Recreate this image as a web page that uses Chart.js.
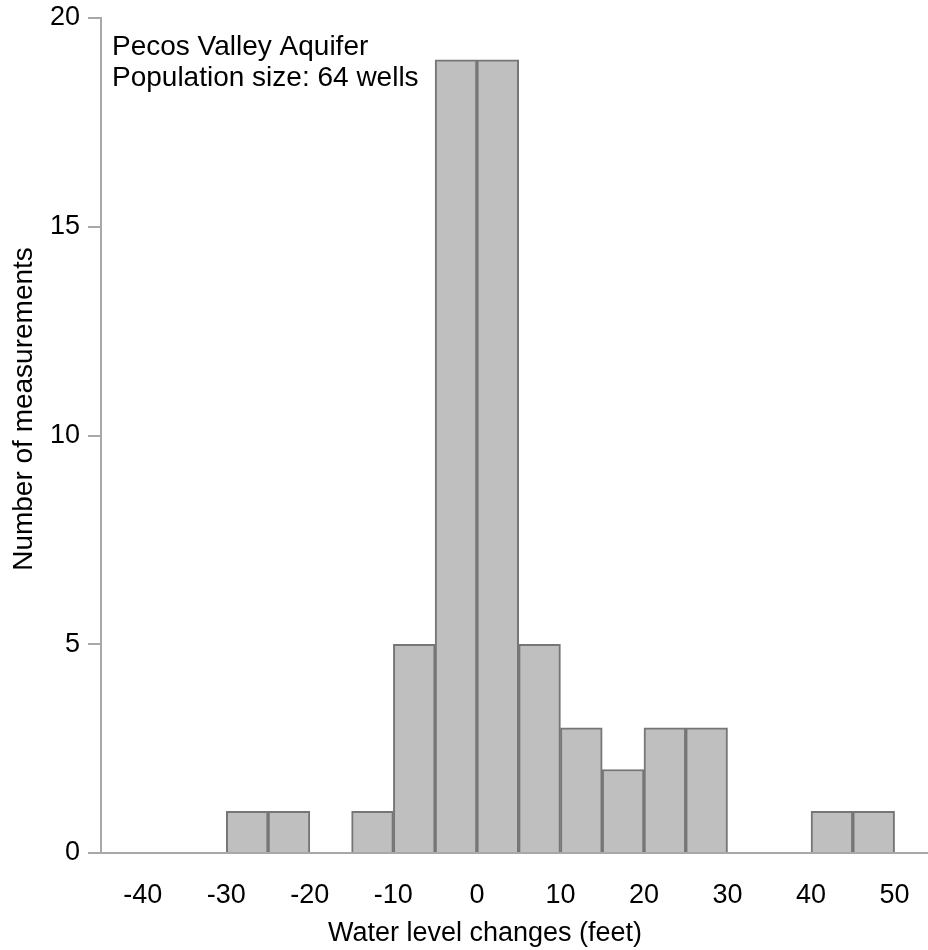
<!DOCTYPE html>
<html>
<head>
<meta charset="utf-8">
<script src="https://cdn.jsdelivr.net/npm/chart.js@4.4.1/dist/chart.umd.min.js"></script>
<style>
  html, body { margin: 0; padding: 0; background: #ffffff; }
  #wrap { position: relative; width: 928px; height: 950px; }
</style>
</head>
<body>
<div id="wrap"><canvas id="c" width="928" height="950"></canvas></div>
<script>
// ---- data ----
const binStarts = [-30, -25, -15, -10, -5, 0, 5, 10, 15, 20, 25, 40, 45];
const binWidth = 5;
const counts = [1, 1, 1, 5, 19, 19, 5, 3, 2, 3, 3, 1, 1];
const xTickValues = [-40, -30, -20, -10, 0, 10, 20, 30, 40, 50];
const yTickValues = [0, 5, 10, 15, 20];
const annotationLines = ["Pecos Valley Aquifer", "Population size: 64 wells"];
const xTitle = "Water level changes (feet)";
const yTitle = "Number of measurements";

const FONT = "'Liberation Sans', Arial, sans-serif";

const points = binStarts.map((s, i) => ({ x: s + binWidth / 2, y: counts[i] }));

const textPlugin = {
  id: 'texts',
  afterDraw(chart) {
    const ctx = chart.ctx;
    ctx.save();
    ctx.fillStyle = '#000';
    ctx.font = "28px " + FONT;
    ctx.textAlign = 'left';
    ctx.textBaseline = 'alphabetic';
    ctx.fillText(annotationLines[0], 112, 55);
    ctx.fillText(annotationLines[1], 112, 86);
    ctx.textAlign = 'center';
    ctx.font = "27px " + FONT;
    ctx.fillText(xTitle, 485, 941);
    ctx.font = "28px " + FONT;
    ctx.translate(32, 409);
    ctx.rotate(-Math.PI / 2);
    ctx.fillText(yTitle, 0, 0);
    ctx.restore();
  }
};

new Chart(document.getElementById('c'), {
  type: 'bar',
  data: {
    datasets: [{
      data: points,
      backgroundColor: '#bfbfbf',
      borderColor: '#767676',
      borderWidth: 2,
      borderSkipped: 'bottom',
      barPercentage: 1,
      categoryPercentage: 1,
      grouped: false
    }]
  },
  options: {
    responsive: false,
    animation: false,
    layout: { padding: { top: 18, right: 0, left: 0, bottom: 0 } },
    plugins: { legend: { display: false }, tooltip: { enabled: false } },
    scales: {
      x: {
        type: 'linear',
        offset: false,
        min: -45,
        max: 54,
        afterBuildTicks(scale) { scale.ticks = xTickValues.map(v => ({ value: v })); },
        afterFit(scale) { scale.height = 97; scale.paddingLeft = 0; scale.paddingRight = 0; },
        grid: { display: false, offset: false },
        border: { display: true, color: '#a8a8a8', width: 2 },
        ticks: { color: '#000', font: { family: FONT, size: 27 }, padding: 18, maxRotation: 0, autoSkip: false }
      },
      y: {
        min: 0,
        max: 20,
        afterBuildTicks(scale) { scale.ticks = yTickValues.map(v => ({ value: v })); },
        afterFit(scale) { scale.width = 101; scale.paddingTop = 0; scale.paddingBottom = 0; },
        grid: { display: true, drawOnChartArea: false, drawTicks: true, tickLength: 13, color: '#a8a8a8', lineWidth: 2 },
        border: { display: true, color: '#a8a8a8', width: 2 },
        ticks: { color: '#000', font: { family: FONT, size: 27 }, padding: 8 }
      }
    }
  },
  plugins: [textPlugin]
});
</script>
</body>
</html>
